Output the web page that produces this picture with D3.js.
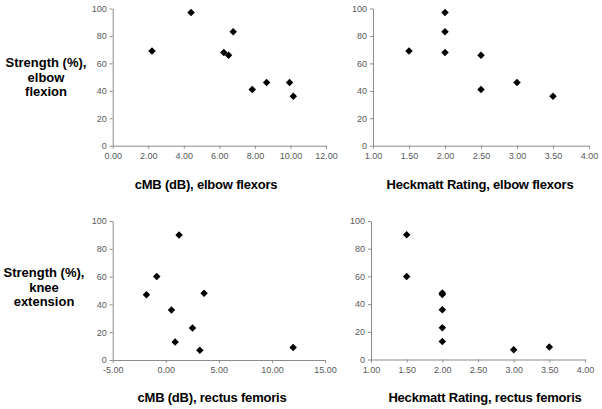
<!DOCTYPE html>
<html>
<head>
<meta charset="utf-8">
<script src="https://cdn.jsdelivr.net/npm/d3@7"></script>
<style>
  html, body { margin: 0; padding: 0; background: #fff; }
  svg { display: block; }
</style>
</head>
<body>
<svg id="chart" width="602" height="409"></svg>
<script>
// ---- Data ----
const strengthElbow = [69, 97, 83, 68, 66, 41, 46, 46, 36];
const cmbElbow      = [2.21, 4.41, 6.78, 6.25, 6.52, 7.85, 8.66, 9.95, 10.16];
const heckElbowStrength = [69, 97, 83, 68, 66, 41, 46, 36];
const heckElbow         = [1.5, 2.0, 2.0, 2.0, 2.5, 2.5, 3.0, 3.5];

const strengthKnee = [90, 60, 47, 48, 36, 23, 13, 7, 9];
const cmbRectus    = [1.25, -0.85, -1.82, 3.61, 0.54, 2.52, 0.88, 3.21, 12.0];
const heckRectus   = [1.5, 1.5, 2.0, 2.0, 2.0, 2.0, 2.0, 3.0, 3.5];

const yTicks = [0, 20, 40, 60, 80, 100];
const xTicksCmbElbow = [0, 2, 4, 6, 8, 10, 12];
const xTicksHeck = [1.0, 1.5, 2.0, 2.5, 3.0, 3.5, 4.0];
const xTicksCmbRectus = [-5, 0, 5, 10, 15];

const xTitles = ["cMB (dB), elbow flexors", "Heckmatt Rating, elbow flexors",
                 "cMB (dB), rectus femoris", "Heckmatt Rating, rectus femoris"];
const yTitleTop = ["Strength (%),", "elbow", "flexion"];
const yTitleBottom = ["Strength (%),", "knee", "extension"];

// ---- Layout ----
const svg = d3.select("#chart");
const font = "Liberation Sans, Arial, sans-serif";
const fmt2 = d => d.toFixed(2);

const panels = [
  { xs: cmbElbow, ys: strengthElbow, xDom: [0, 12], xTicks: xTicksCmbElbow,
    x0: 112.7, x1: 326, yTop: 8.5, yBot: 145.7, title: xTitles[0], tx: 206, ty: 189 },
  { xs: heckElbow, ys: heckElbowStrength, xDom: [1, 4], xTicks: xTicksHeck,
    x0: 373, x1: 589, yTop: 8.5, yBot: 145.7, title: xTitles[1], tx: 480, ty: 189 },
  { xs: cmbRectus, ys: strengthKnee, xDom: [-5, 15], xTicks: xTicksCmbRectus,
    x0: 112.7, x1: 325, yTop: 221, yBot: 360, title: xTitles[2], tx: 212, ty: 402 },
  { xs: heckRectus, ys: strengthKnee, xDom: [1, 4], xTicks: xTicksHeck,
    x0: 371, x1: 585, yTop: 221, yBot: 359.5, title: xTitles[3], tx: 485, ty: 402 }
];

const diamond = d3.symbol().type(d3.symbolSquare).size(28);

panels.forEach(p => {
  const x = d3.scaleLinear().domain(p.xDom).range([p.x0, p.x1]);
  const y = d3.scaleLinear().domain([0, 100]).range([p.yBot, p.yTop]);
  const g = svg.append("g");

  const xAxis = g.append("g")
    .attr("transform", `translate(0,${p.yBot})`)
    .call(d3.axisBottom(x).tickValues(p.xTicks).tickFormat(fmt2)
      .tickSizeOuter(0).tickSizeInner(3).tickPadding(4));
  const yAxis = g.append("g")
    .attr("transform", `translate(${p.x0},0)`)
    .call(d3.axisLeft(y).tickValues(yTicks).tickFormat(d => String(d))
      .tickSizeOuter(0).tickSizeInner(3).tickPadding(3));

  [xAxis, yAxis].forEach(a => {
    a.selectAll("path.domain").attr("stroke", "#8c8c8c").attr("stroke-width", 1);
    a.selectAll(".tick line").attr("stroke", "#8c8c8c");
    a.selectAll(".tick text").attr("fill", "#595959")
      .style("font-family", font).style("font-size", "9px");
  });

  g.selectAll("path.pt")
    .data(p.xs.map((v, i) => [v, p.ys[i]]))
    .enter().append("path")
    .attr("class", "pt")
    .attr("d", diamond)
    .attr("fill", "#000")
    .attr("transform", d => `translate(${x(d[0])},${y(d[1])}) rotate(45)`);

  g.append("text")
    .attr("x", p.tx).attr("y", p.ty)
    .attr("text-anchor", "middle")
    .style("font-family", font).style("font-weight", "bold").style("font-size", "13px")
    .style("letter-spacing", "-0.2px")
    .attr("fill", "#000")
    .text(p.title);
});

function yTitle(lines, cx, y0) {
  const t = svg.append("text")
    .attr("text-anchor", "middle")
    .style("font-family", font).style("font-weight", "bold").style("font-size", "13px")
    .attr("fill", "#000");
  lines.forEach((l, i) => {
    t.append("tspan").attr("x", cx).attr("y", y0 + i * 14.5).text(l);
  });
}
yTitle(yTitleTop, 46, 67);
yTitle(yTitleBottom, 44, 277);
</script>
</body>
</html>
